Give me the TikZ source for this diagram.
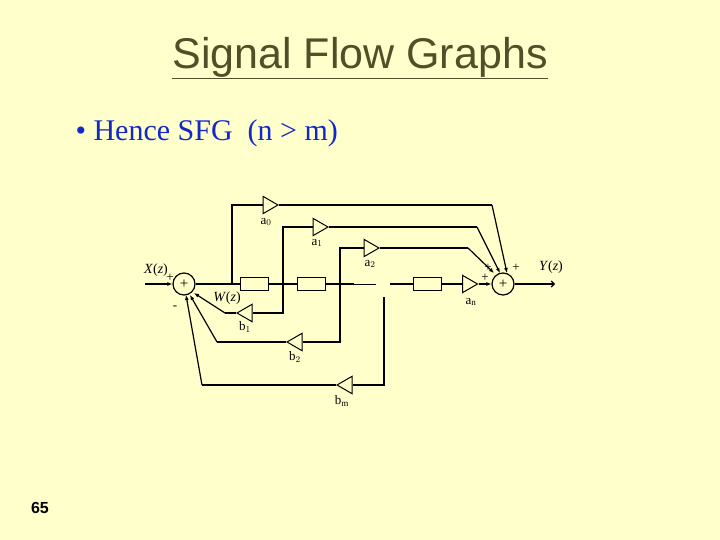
\documentclass[tikz,border=0pt]{standalone}
\usepackage{fontspec}
\setmainfont{Liberation Serif}
\newfontfamily\arialf{Liberation Sans}
\usetikzlibrary{arrows.meta,shapes.geometric}
\definecolor{bg}{RGB}{255,255,204}
\definecolor{ttl}{RGB}{80,80,40}
\definecolor{blu}{RGB}{20,40,200}
\begin{document}
\begin{tikzpicture}[x=1pt,y=-1pt,
  ln/.style={line width=1.2pt},
  ar/.style={ln,-{Latex[length=5pt,width=4pt]}},
  sumc/.style={circle,draw,line width=1.2pt,minimum size=22pt,inner sep=0pt,font=\fontsize{15}{15}\selectfont},
  blk/.style={draw,line width=0.8pt,minimum width=28pt,minimum height=13pt,inner sep=0pt},
  lab/.style={font=\fontsize{13}{14}\selectfont,inner sep=0pt}]
\fill[bg] (0,0) rectangle (720,540);
\useasboundingbox (0,0) rectangle (720,540);
\node[font=\arialf\fontsize{43}{46}\selectfont,text=ttl] (t) at (360,58) {\underline{Signal Flow Graphs}};
\node[font=\fontsize{30}{32}\selectfont,text=blu,anchor=west] (b) at (72,133) {\textbullet\ Hence SFG\ \ (n > m)};
\node[font=\arialf\bfseries\fontsize{16}{18}\selectfont] (pg) at (40,508) {65};
% sums
\node[sumc] (s1) at (184,284) {+};
\node[sumc] (s2) at (503,284) {+};
\coordinate (in) at (145,284);
\coordinate (out) at (555,284);
\draw[ar] (in) -- (s1);
\draw[ln,-{Straight Barb[length=3pt]}] (s2) -- (out);
% blocks
\node[blk] (z1) at (254,284) {};
\node[blk] (z2) at (311,284) {};
\node[blk] (z3) at (427,284) {};
\coordinate (w) at (232,284);
\coordinate (br1) at (283,284);
\coordinate (br2) at (340,284);
\coordinate (e1) at (376,284);
\coordinate (e2) at (390,284);
\coordinate (brm) at (384,297);
\draw[ln] (s1) -- (z1) -- (z2) -- (br2) -- (354,284);
\draw[line width=0.6pt] (354,284) -- (e1);
\draw[ln] (e2) -- (z3);
\tikzset{tri/.style={isosceles triangle,draw,line width=1pt,minimum width=15pt,minimum height=15pt,inner sep=0pt,isosceles triangle apex angle=60},
 trl/.style={tri,shape border rotate=180}}
% an
\node[tri,anchor=west] (an) at (462,284) {};
\draw[ln] (z3) -- (an);
\draw[ar] (an.east) -- (s2);
% feedforward
\node[tri] (a0) at (268,205) {};
\node[tri] (a1) at (318,227) {};
\node[tri] (a2) at (369,248) {};
\draw[ln] (w) |- (a0.west); \draw[ln] (a0.east) -- (492,205); \draw[ar] (492,205) -- (507,273);
\draw[ln] (br1) |- (a1.west); \draw[ln] (a1.east) -- (477,227); \draw[ar] (477,227) -- (500,273);
\draw[ln] (br2) |- (a2.west); \draw[ln] (a2.east) -- (468,248); \draw[ar] (468,248) -- (494,273);
% feedback
\node[trl] (b1) at (247,313) {};
\node[trl] (b2) at (297,342) {};
\node[trl] (bm) at (347,385) {};
\draw[ln] (br1) |- (b1.east); \draw[ln] (b1.west) -- (225,313); \draw[ar] (225,313) -- (194,293);
\draw[ln] (br2) |- (b2.east); \draw[ln] (b2.west) -- (217,342); \draw[ar] (217,342) -- (190,295);
\draw[ln] (brm) |- (bm.east); \draw[ln] (bm.west) -- (202,385); \draw[ar] (202,385) -- (186,295);
% labels
\node[lab] (la0) at (266,222) {a$_0$};
\node[lab] (la1) at (317,243) {a$_1$};
\node[lab] (la2) at (370,264) {a$_2$};
\node[lab] (lan) at (471,302) {a$_\mathrm{n}$};
\node[lab] (lb1) at (245,327) {b$_1$};
\node[lab] (lb2) at (295,357) {b$_2$};
\node[lab] (lbm) at (342,401) {b$_\mathrm{m}$};
\node[font=\fontsize{14}{15}\selectfont,inner sep=0pt] (lx) at (156,270) {\textit{X}(\textit{z})};
\node[font=\fontsize{14}{15}\selectfont,inner sep=0pt] (ly) at (551,267) {\textit{Y}(\textit{z})};
\node[font=\fontsize{14}{15}\selectfont,inner sep=0pt] (lw) at (227,298) {\textit{W}(\textit{z})};
\node[lab] (m1) at (175,308) {-};
\node[lab] (p1) at (170,278) {+};
\node[lab] (p2) at (516,268) {+};
\node[lab] (p3) at (488,268) {+};
\node[lab] (p4) at (485,278) {+};
\end{tikzpicture}
\end{document}
